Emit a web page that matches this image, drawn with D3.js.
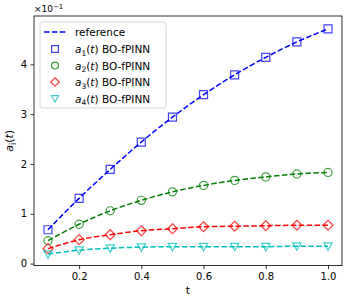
<!DOCTYPE html>
<html>
<head>
<meta charset="utf-8">
<script src="https://cdn.jsdelivr.net/npm/d3@7"></script>
<style>
  body { margin: 0; background: #fff; }
  svg text { font-family: "DejaVu Sans", sans-serif; }
</style>
</head>
<body>
<svg id="chart"></svg>
<script>
// 数据 (单位 ×10^-1)
var tValues = [0.1, 0.2, 0.3, 0.4, 0.5, 0.6, 0.7, 0.8, 0.9, 1.0];
var a1 = [0.68, 1.31, 1.89, 2.44, 2.94, 3.39, 3.79, 4.14, 4.45, 4.71];
var a2 = [0.46, 0.79, 1.06, 1.27, 1.44, 1.57, 1.67, 1.74, 1.80, 1.83];
var a3 = [0.30, 0.48, 0.58, 0.66, 0.70, 0.74, 0.75, 0.76, 0.77, 0.77];
var a4 = [0.19, 0.27, 0.31, 0.33, 0.34, 0.34, 0.34, 0.34, 0.35, 0.35];
var xTicks = [0.2, 0.4, 0.6, 0.8, 1.0];
var yTicks = [0, 1, 2, 3, 4];
var seriesNames = ['a1', 'a2', 'a3', 'a4'];

var width = 349, height = 303;
var plotLeft = 34, plotRight = 342, plotTop = 16, plotBottom = 265.6;

var svg = d3.select('#chart').attr('width', width).attr('height', height);

// 比例尺
var x = d3.scaleLinear().domain([0.055, 1.045]).range([plotLeft, plotRight]);
var y = d3.scaleLinear().domain([-0.04, 4.97]).range([plotBottom, plotTop]);

var series = [
    {name: seriesNames[0], values: a1, color: '#0000ff', marker: 'square'},
    {name: seriesNames[1], values: a2, color: '#008000', marker: 'circle'},
    {name: seriesNames[2], values: a3, color: '#ff0000', marker: 'diamond'},
    {name: seriesNames[3], values: a4, color: '#00bfbf', marker: 'tri'}
];

// 坐标轴
var xAxis = svg.append('g')
    .attr('transform', 'translate(0,' + plotBottom + ')')
    .call(d3.axisBottom(x).tickValues(xTicks).tickFormat(d3.format('.1f')).tickSize(3.5).tickPadding(3.5));
var yAxis = svg.append('g')
    .attr('transform', 'translate(' + plotLeft + ',0)')
    .call(d3.axisLeft(y).tickValues(yTicks).tickFormat(d3.format('d')).tickSize(3.5).tickPadding(3.5));
[xAxis, yAxis].forEach(function(a) {
    a.select('.domain').remove();
    a.selectAll('text').attr('font-size', 10).attr('fill', '#000');
    a.selectAll('line').attr('stroke', '#000').attr('stroke-width', 0.8);
});

// 边框
svg.append('rect')
    .attr('x', plotLeft).attr('y', plotTop)
    .attr('width', plotRight - plotLeft).attr('height', plotBottom - plotTop)
    .attr('fill', 'none').attr('stroke', '#000').attr('stroke-width', 0.8);

// 标记形状
function markerPath(type, k) {
    k = k || 1;
    if (type == 'square') return d3.symbol().type(d3.symbolSquare).size(64 * k * k)();
    if (type == 'circle') return d3.symbol().type(d3.symbolCircle).size(52 * k * k)();
    if (type == 'diamond') {
        var r = 5 * k;
        return 'M0,' + (-r) + 'L' + r + ',0L0,' + r + 'L' + (-r) + ',0Z';
    }
    var w = 4.2 * k;
    return 'M' + (-w) + ',' + (-3.3 * k) + 'L' + w + ',' + (-3.3 * k) + 'L0,' + (4.2 * k) + 'Z';
}

var line = d3.line()
    .x(function(d, i) { return x(tValues[i]); })
    .y(function(d) { return y(d); })
    .curve(d3.curveMonotoneX);

series.forEach(function(s) {
    svg.append('path')
        .attr('d', line(s.values))
        .attr('fill', 'none')
        .attr('stroke', s.color)
        .attr('stroke-width', 1.5)
        .attr('stroke-dasharray', '5.5,2.4');
    svg.append('g').selectAll('path')
        .data(s.values)
        .enter()
        .append('path')
        .attr('d', markerPath(s.marker))
        .attr('transform', function(d, i) {
            return 'translate(' + x(tValues[i]) + ',' + y(d) + ')';
        })
        .attr('fill', 'none')
        .attr('stroke', s.color)
        .attr('stroke-opacity', 0.75)
        .attr('stroke-width', 1.2);
});

// 轴标题
svg.append('text').attr('x', (plotLeft + plotRight) / 2).attr('y', 294)
    .attr('text-anchor', 'middle').attr('font-size', 11).text('t');
var yl = svg.append('text')
    .attr('transform', 'translate(13,' + ((plotTop + plotBottom) / 2) + ') rotate(-90)')
    .attr('text-anchor', 'middle').attr('font-size', 11);
yl.append('tspan').attr('font-style', 'italic').text('a');
yl.append('tspan').attr('font-size', 8).attr('dy', 3).text('i');
yl.append('tspan').attr('dy', -3).text('(');
yl.append('tspan').attr('font-style', 'italic').text('t');
yl.append('tspan').text(')');

// 科学计数
var off = svg.append('text').attr('x', plotLeft).attr('y', 12).attr('font-size', 9);
off.append('tspan').text('×10');
off.append('tspan').attr('font-size', 7).attr('dy', -3.5).text('−1');

// 图例
var lg = svg.append('g');
lg.append('rect')
    .attr('x', 40).attr('y', 22).attr('width', 126).attr('height', 86).attr('rx', 2.5)
    .attr('fill', '#fff').attr('fill-opacity', 0.8).attr('stroke', '#ccc').attr('stroke-width', 0.8);
lg.append('line').attr('x1', 44).attr('x2', 67).attr('y1', 32).attr('y2', 32)
    .attr('stroke', '#0000ff').attr('stroke-width', 1.5).attr('stroke-dasharray', '5.5,2.4');
lg.append('text').attr('x', 75).attr('y', 36).attr('font-size', 10.5).text('reference');
series.forEach(function(s, i) {
    var yy = 49 + i * 16.5;
    lg.append('path').attr('d', markerPath(s.marker, 0.85))
        .attr('transform', 'translate(55,' + yy + ')')
        .attr('fill', 'none').attr('stroke', s.color).attr('stroke-opacity', 0.75).attr('stroke-width', 1.2);
    var t = lg.append('text').attr('x', 75).attr('y', yy + 4).attr('font-size', 10.5);
    t.append('tspan').attr('font-style', 'italic').text('a');
    t.append('tspan').attr('font-size', 7.5).attr('dy', 2.5).text(String(i + 1));
    t.append('tspan').attr('dy', -2.5).text('(');
    t.append('tspan').attr('font-style', 'italic').text('t');
    t.append('tspan').text(') BO-fPINN');
});
</script>
</body>
</html>
